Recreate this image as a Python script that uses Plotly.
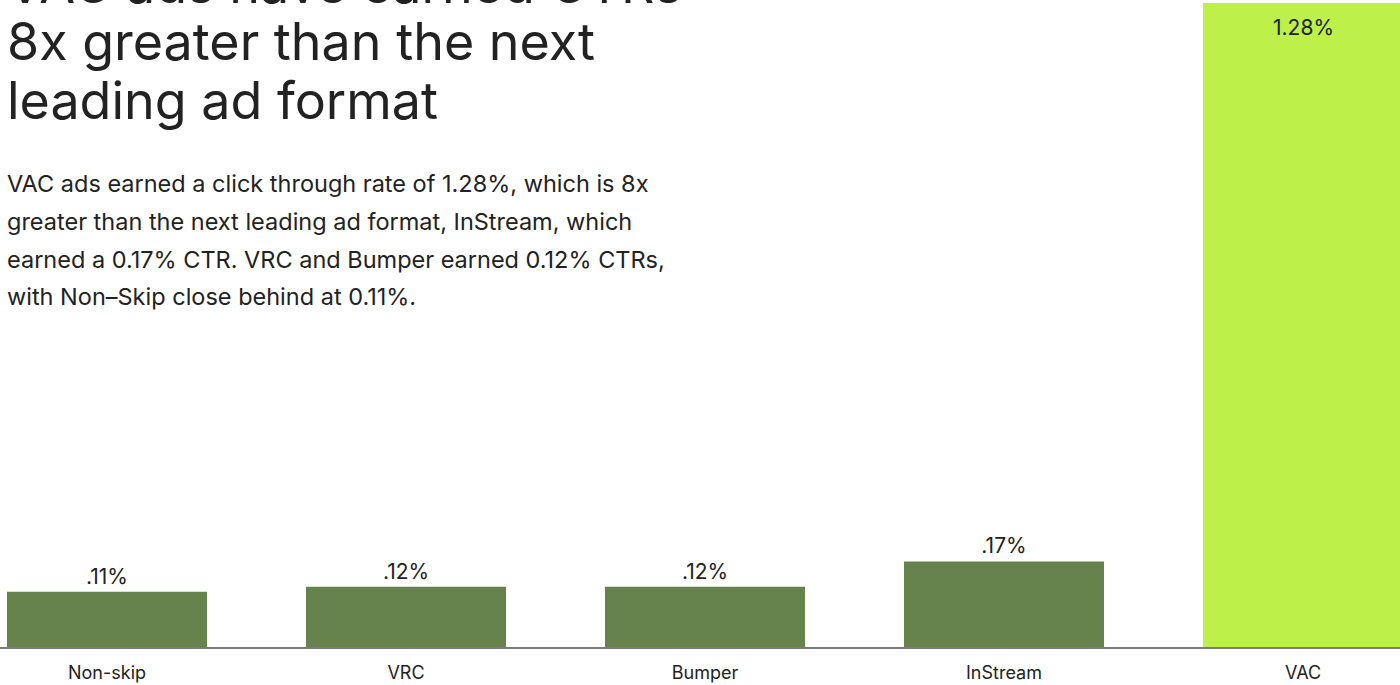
import plotly.graph_objects as go

# Click-through rate by ad format (percent)
formats = ["Non-skip", "VRC", "Bumper", "InStream", "VAC"]
ctr = [0.11, 0.12, 0.12, 0.17, 1.28]

title_lines = [
    "VAC ads have earned CTRs",
    "8x greater than the next",
    "leading ad format",
]
body_lines = [
    "VAC ads earned a click through rate of 1.28%, which is 8x",
    "greater than the next leading ad format, InStream, which",
    "earned a 0.17% CTR. VRC and Bumper earned 0.12% CTRs,",
    "with Non\u2013Skip close behind at 0.11%.",
]

W, H = 1400, 685
BOTTOM = 38
PLOT_H = H - BOTTOM
FONT = "Inter, 'Liberation Sans', Arial, sans-serif"
DARK_GREEN = "#66834D"
LIME = "#BEF04A"
TEXT = "#222222"
LEADER = "VAC"


def fmt(v):
    s = f"{v:.2f}%"
    return s[1:] if s.startswith("0") else s


def paper_y(px):
    return 1 - px / PLOT_H


colors = [LIME if f == LEADER else DARK_GREEN for f in formats]
positions = ["none" if f == LEADER else "outside" for f in formats]

fig = go.Figure(
    go.Bar(
        x=formats,
        y=ctr,
        width=0.669,
        marker=dict(color=colors, line=dict(width=0)),
        text=[fmt(v) for v in ctr],
        textposition=positions,
        textfont=dict(family=FONT, size=21, color=TEXT),
        outsidetextfont=dict(family=FONT, size=21, color=TEXT),
        cliponaxis=False,
        hoverinfo="skip",
    )
)

annotations = []
for i, line in enumerate(title_lines):
    baseline = 2 + 58 * i
    annotations.append(dict(
        text=line, xref="paper", yref="paper", x=5 / W, y=paper_y(baseline - 18),
        xanchor="left", yanchor="middle", showarrow=False,
        font=dict(family=FONT, size=52, color=TEXT),
    ))
for i, line in enumerate(body_lines):
    baseline = 192 + 37.5 * i
    annotations.append(dict(
        text=line, xref="paper", yref="paper", x=5 / W, y=paper_y(baseline - 8),
        xanchor="left", yanchor="middle", showarrow=False,
        font=dict(family=FONT, size=23.5, color=TEXT),
    ))

# value label for the leading format sits inside the top of its bar
lead_idx = formats.index(LEADER)
annotations.append(dict(
    text=fmt(ctr[lead_idx]), x=LEADER, y=ctr[lead_idx], xref="x", yref="y",
    xanchor="center", yanchor="middle", yshift=-24, showarrow=False,
    font=dict(family=FONT, size=21, color=TEXT),
))

fig.update_layout(
    width=W,
    height=H,
    margin=dict(l=0, r=0, t=0, b=BOTTOM, pad=0),
    paper_bgcolor="white",
    plot_bgcolor="white",
    showlegend=False,
    annotations=annotations,
    xaxis=dict(
        range=[-107 / 299, (W - 107) / 299],
        automargin=False,
        showgrid=False,
        zeroline=False,
        showline=True,
        linecolor="#7a7a7a",
        linewidth=2,
        ticks="",
        ticklabelstandoff=8,
        tickfont=dict(family=FONT, size=18, color=TEXT),
        fixedrange=True,
    ),
    yaxis=dict(
        range=[0, 1.28 * PLOT_H / 644],
        visible=False,
        automargin=False,
        fixedrange=True,
    ),
)

fig.write_html("out.html")
